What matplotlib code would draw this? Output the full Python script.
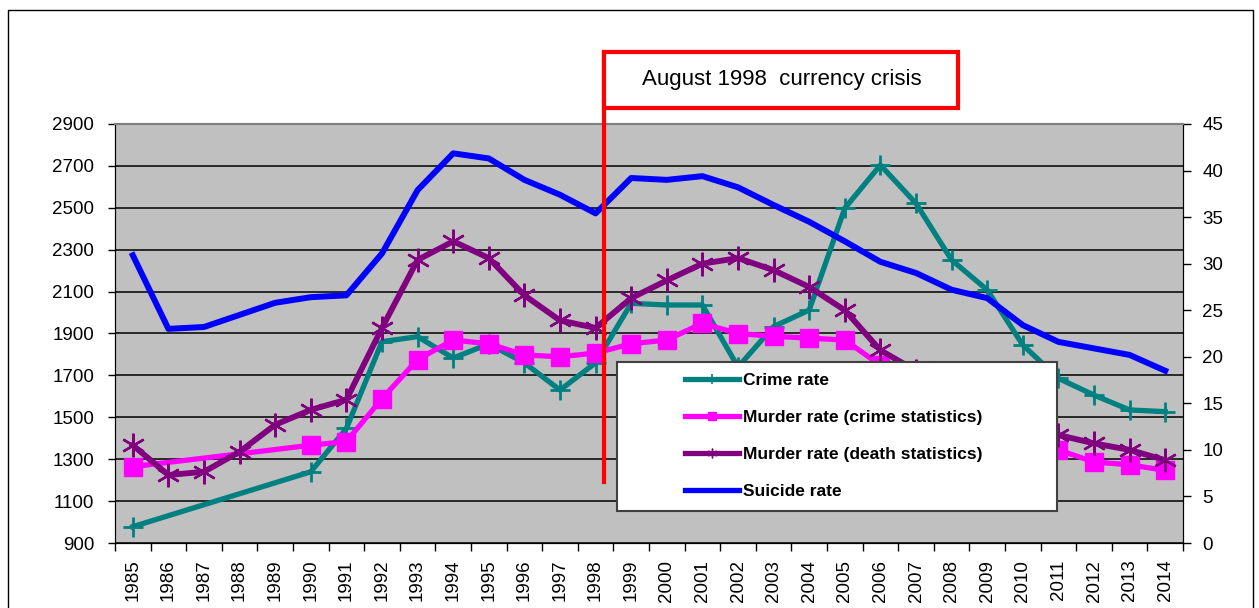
import matplotlib
matplotlib.use("Agg")
import matplotlib.pyplot as plt
from matplotlib.patches import Rectangle
from matplotlib.lines import Line2D

plt.rcParams['font.family'] = ['Liberation Sans', 'DejaVu Sans']

years = list(range(1985, 2015))

crime_rate = [978, None, None, None, None, 1240, 1447, 1861, 1885, 1783,
              1850, 1760, 1630, 1760, 2044, 2036, 2036, 1740, 1933, 2012,
              2498, 2704, 2521, 2251, 2108, 1845, 1686, 1606, 1535, 1527]

murder_crime_stats = [8.2, None, None, None, None, 10.5, 10.9, 15.5, 19.7, 21.8,
                      21.4, 20.2, 20.0, 20.4, 21.4, 21.8, 23.6, 22.5, 22.2, 22.0,
                      21.8, 19.1, 17.0, 15.0, 13.5, 12.0, 10.0, 8.7, 8.4, 7.8]

murder_death_stats = [10.5, 7.3, 7.65, 9.8, 12.7, 14.3, 15.4, 23.1, 30.4, 32.4,
                      30.6, 26.6, 23.9, 23.1, 26.3, 28.2, 30.0, 30.6, 29.3, 27.5,
                      25.0, 20.7, 18.5, 16.5, 15.0, 13.0, 11.6, 10.7, 10.0, 8.9]

suicide_rate = [30.9, 23.0, 23.2, 24.5, 25.8, 26.4, 26.6, 31.1, 37.9, 41.85,
                41.3, 39.0, 37.4, 35.4, 39.2, 39.0, 39.4, 38.2, 36.3, 34.5,
                32.4, 30.2, 29.0, 27.2, 26.3, 23.4, 21.6, 20.9, 20.2, 18.5]

left_ticks = list(range(900, 3000, 200))
right_ticks = list(range(0, 50, 5))

labels = ["Crime rate", "Murder rate (crime statistics)",
          "Murder rate (death statistics)", "Suicide rate"]
annotation_text = "August 1998  currency crisis"


def valid(vals):
    xs = [i for i, v in enumerate(vals) if v is not None]
    ys = [v for v in vals if v is not None]
    return xs, ys


W, H = 1259, 608
fig = plt.figure(figsize=(W / 100, H / 100), dpi=100)
fig.patch.set_facecolor('white')

L, R, T, B = 115, 1183, 124, 543
ax = fig.add_axes([L / W, 1 - B / H, (R - L) / W, (B - T) / H])
ax2 = ax.twinx()

ax.set_facecolor('#C0C0C0')
ax.set_xlim(-0.5, len(years) - 0.5)
ax.set_ylim(900, 2900)
ax2.set_ylim(0, 45)
ax.set_yticks(left_ticks)
ax2.set_yticks(right_ticks)
ax.yaxis.grid(True, color='black', linewidth=1.1)
ax.set_axisbelow(True)

# x ticks: boundaries as major ticks, labels at centers
ax.set_xticks([i - 0.5 for i in range(len(years) + 1)])
ax.set_xticklabels([])
ax.set_xticks(range(len(years)), minor=True)
ax.set_xticklabels([str(y) for y in years], minor=True, rotation=90, fontsize=13.5)
ax.tick_params(axis='x', which='minor', length=0, pad=12)
ax.tick_params(axis='x', which='major', length=6, direction='out', width=1)
ax.tick_params(axis='y', length=5, width=1, labelsize=13.5, pad=10)
ax2.tick_params(axis='y', length=6, width=1, labelsize=13.5, pad=8)

for a in (ax, ax2):
    a.spines['top'].set_color('#808080')
    a.spines['top'].set_linewidth(1.5)
    a.spines['left'].set_color('black')
    a.spines['right'].set_color('black')
    a.spines['bottom'].set_color('black')
ax2.patch.set_visible(False)

xs, ys = valid(crime_rate)
ax.plot(xs, ys, color='#008080', lw=3.8, marker='+', ms=14, mew=2,
        solid_joinstyle='round', zorder=3)

xs, ys = valid(murder_crime_stats)
ax2.plot(xs, ys, color='#FF00FF', lw=3.8, marker='s', ms=13.5,
         solid_joinstyle='round', zorder=2)
xs, ys = valid(murder_death_stats)
ax2.plot(xs, ys, color='#800080', lw=4.2, marker=(6, 2, 0), ms=17, mew=1.7,
         solid_joinstyle='round', zorder=3)
xs, ys = valid(suicide_rate)
ax2.plot(xs, ys, color='#0000FF', lw=4.3, solid_joinstyle='round', zorder=4)

# annotation: red box and line
def fx(px):
    return (px - L) / (R - L)


def fy(py):
    return (B - py) / (B - T)

red_line = Line2D([fx(604), fx(604)], [fy(482), fy(52)], transform=ax2.transAxes,
                  color='red', lw=3, clip_on=False, zorder=6)
ax2.add_artist(red_line)
box = Rectangle((fx(604), fy(108)), fx(958) - fx(604), fy(52) - fy(108),
                transform=ax2.transAxes, facecolor='white', edgecolor='red',
                lw=3, clip_on=False, zorder=6)
ax2.add_artist(box)
ax2.text((fx(604) + fx(958)) / 2 + 0.001, (fy(52) + fy(108)) / 2, annotation_text,
         transform=ax2.transAxes, ha='center', va='center', fontsize=16,
         color='black', zorder=7)

# legend
leg_bg = Rectangle((fx(617), fy(511)), fx(1057) - fx(617), fy(362) - fy(511),
                   transform=ax2.transAxes, facecolor='white', edgecolor='#404040',
                   lw=1.5, zorder=8)
ax2.add_artist(leg_bg)
handles = [
    Line2D([], [], color='#008080', lw=3.8, marker='+', ms=7, mew=1.2),
    Line2D([], [], color='#FF00FF', lw=3.8, marker='s', ms=6),
    Line2D([], [], color='#800080', lw=3.8, marker=(6, 2, 0), ms=7, mew=1),
    Line2D([], [], color='#0000FF', lw=3.8),
]
leg = ax2.legend(handles, labels, loc='upper left',
                 bbox_to_anchor=(fx(685), fy(373)), frameon=False,
                 borderpad=0, borderaxespad=0, handlelength=3.1,
                 handletextpad=0.25, labelspacing=1.25, numpoints=1,
                 prop={'weight': 'bold', 'size': 12.5})
leg.set_zorder(9)

# outer chart border
fig.add_artist(Line2D([8 / W, 8 / W, 1253 / W, 1253 / W],
                      [0, 1 - 10 / H, 1 - 10 / H, 0],
                      transform=fig.transFigure, color='black', lw=1))

fig.savefig('out.png', dpi=100, facecolor='white')
